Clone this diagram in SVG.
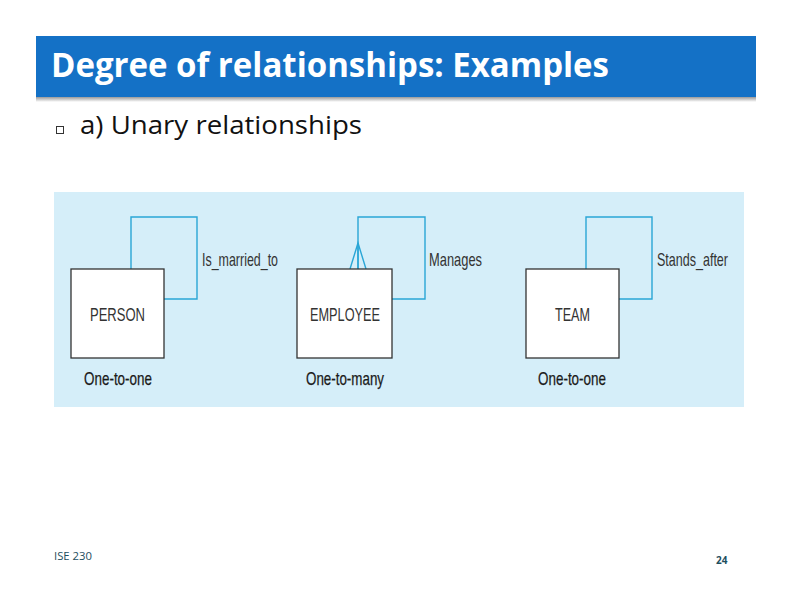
<svg xmlns="http://www.w3.org/2000/svg" width="792" height="612" viewBox="0 0 792 612">
<defs>
<linearGradient id="sh" x1="0" y1="0" x2="0" y2="1">
<stop offset="0" stop-color="#9a9a9a"/><stop offset="1" stop-color="#ffffff"/>
</linearGradient>
</defs>
<style>
.ent{fill:#ffffff;stroke:#333333;stroke-width:1.3}
.lnk{fill:none;stroke:#2aa6d6;stroke-width:1.4}
.lbl{font-family:"Liberation Sans",Arial,sans-serif;font-size:19px;fill:#333333}
.card{font-family:"Liberation Sans",Arial,sans-serif;font-size:19px;fill:#1a1a1a;stroke:#1a1a1a;stroke-width:0.25}
</style>
<rect width="792" height="612" fill="#ffffff"/>
<rect x="36" y="97" width="720" height="5" fill="url(#sh)"/>
<rect x="36" y="36" width="720" height="61" fill="#1471c6"/>
<text x="51" y="77" font-family="'Open Sans','Liberation Sans',sans-serif" font-weight="bold" font-size="34" fill="#ffffff" textLength="558" lengthAdjust="spacingAndGlyphs">Degree of relationships: Examples</text>
<rect x="56.5" y="126.5" width="7" height="7" fill="none" stroke="#333333" stroke-width="1"/>
<text x="80" y="134" font-family="'Open Sans','Liberation Sans',sans-serif" font-size="25" fill="#111111" textLength="282" lengthAdjust="spacingAndGlyphs">a) Unary relationships</text>
<rect x="54" y="192" width="690" height="215" fill="#d5eef9"/>
<g id="connectors">
<polyline class="lnk" points="131,269 131,217 197,217 197,299 164,299"/>
<polyline class="lnk" points="358,269 358,217 425,217 425,299 392,299"/>
<polyline class="lnk" points="350,269 358,243 366,269"/>
<line class="lnk" x1="358" y1="243" x2="358" y2="269"/>
<polyline class="lnk" points="586,269 586,217 652,217 652,299 619,299"/>
<text class="lbl" x="202" y="266" textLength="76" lengthAdjust="spacingAndGlyphs">Is_married_to</text>
<text class="lbl" x="429" y="266" textLength="53" lengthAdjust="spacingAndGlyphs">Manages</text>
<text class="lbl" x="657" y="266" textLength="71" lengthAdjust="spacingAndGlyphs">Stands_after</text>
</g>
<g id="person">
<rect class="ent" x="71" y="269" width="93" height="89"/>
<text class="lbl" x="90" y="321" textLength="55" lengthAdjust="spacingAndGlyphs">PERSON</text>
<text class="card" x="84" y="385" textLength="68" lengthAdjust="spacingAndGlyphs">One-to-one</text>
</g>
<g id="employee">
<rect class="ent" x="297" y="269" width="95" height="89"/>
<text class="lbl" x="310" y="321" textLength="70" lengthAdjust="spacingAndGlyphs">EMPLOYEE</text>
<text class="card" x="306" y="385" textLength="78" lengthAdjust="spacingAndGlyphs">One-to-many</text>
</g>
<g id="team">
<rect class="ent" x="526" y="269" width="93" height="89"/>
<text class="lbl" x="555" y="321" textLength="35" lengthAdjust="spacingAndGlyphs">TEAM</text>
<text class="card" x="538" y="385" textLength="68" lengthAdjust="spacingAndGlyphs">One-to-one</text>
</g>
<text x="54" y="560" font-family="'Open Sans','Liberation Sans',sans-serif" font-size="11" fill="#1e4e5e" textLength="38" lengthAdjust="spacingAndGlyphs">ISE 230</text>
<text x="716" y="564" font-family="'Open Sans','Liberation Sans',sans-serif" font-size="10" font-weight="bold" fill="#1e4e5e">24</text>
</svg>
